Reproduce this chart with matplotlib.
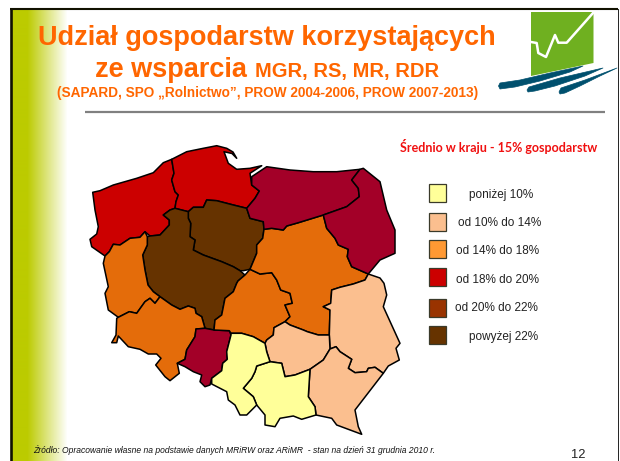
import numpy as np
import matplotlib
matplotlib.use("Agg")
import matplotlib.pyplot as plt
from matplotlib.patches import Polygon, Rectangle

# ---------- data ----------
legend_labels = ["poniżej 10%", "od 10% do 14%", "od 14% do 18%", "od 18% do 20%", "od 20% do 22%", "powyżej 22%"]
legend_colors = ["#FFFF99", "#FBBF8F", "#FF9933", "#CC0000", "#993300", "#663300"]
C_Y, C_P, C_O, C_R, C_C, C_B = "#FFFF99", "#FBBF8F", "#E46C0A", "#CC0000", "#A30028", "#663300"

zachodniopomorskie = [(92.7,192.3),(100,190.7),(113.3,185),(136.7,178.3),(153.3,172.7),(163.3,162.7),(171.7,159.3),(174,173.3),(171.7,180),(175,191.7),(178.3,195),(176,201.7),(175,208.3),(170,210),(163.3,215),(169.3,220),(169.3,225),(160,235),(150,236),(145,231.7),(140,237.3),(130,238.3),(120,245),(113.3,244.3),(109.3,251.7),(105,256),(91.7,246.7),(90,239.3),(96.7,234),(98.3,226.7),(95,210)]
pomorskie = [(171.7,159.3),(186.7,151.7),(203.3,148.3),(216.7,145.7),(226.7,148.3),(233,152),(236.7,158.3),(232,153.5),(224,151.7),(228.3,163.3),(236.7,169.3),(250,168.3),(261.7,165.7),(250,173.3),(251.7,185),(259.3,191),(255,198.3),(246.7,208.3),(233.3,205),(216.7,200.7),(206.7,200),(203.3,207.3),(193.3,207.3),(188.3,211.7),(175,208.3),(176,201.7),(178.3,195),(175,191.7),(171.7,180),(174,173.3)]
kujawsko_pomorskie = [(188.3,211.7),(193.3,207.3),(203.3,207.3),(206.7,200),(216.7,200.7),(233.3,205),(246.7,208.3),(250,218.3),(263.3,221.7),(264,229.3),(262.7,238.3),(256.7,245),(256.7,253.3),(250,269.3),(243.3,270.7),(240,270.7),(233.3,266.7),(221.7,261.7),(203.3,255),(193.3,250),(195,240),(190,236.7),(190.7,223.3),(188.3,218.3)]
wielkopolskie = [(175,208.3),(188.3,211.7),(188.3,218.3),(190.7,223.3),(190,236.7),(195,240),(193.3,250),(203.3,255),(221.7,261.7),(233.3,266.7),(240,270.7),(245,275),(238,281),(236.7,283.3),(233.3,291.7),(225,298.3),(221.7,315),(215,320),(214,330),(205,328.3),(201.7,316.7),(196,313.3),(195,308.3),(188.3,306),(180,309.3),(171.7,305),(160,296.7),(153.3,291.7),(148,285),(145,270),(142.7,255),(147.3,245),(147.3,236.7),(150,236),(160,235),(169.3,225),(169.3,220),(163.3,215),(170,210)]
lubuskie = [(105,256),(109.3,251.7),(113.3,244.3),(120,245),(130,238.3),(140,237.3),(145,231.7),(147.3,236.7),(147.3,245),(142.7,255),(145,270),(148,285),(153.3,291.7),(160,296.7),(155,303.3),(150,298.3),(145,301.7),(136.7,313.3),(129.3,311.7),(118.3,317.3),(108.3,310),(105,293.3),(108.3,286.7),(103.3,263.3)]
dolnoslaskie = [(116.7,318.3),(118.3,317.3),(129.3,311.7),(136.7,313.3),(145,301.7),(150,298.3),(155,303.3),(160,296.7),(171.7,305),(180,309.3),(188.3,306),(195,308.3),(196,313.3),(201.7,316.7),(205,328.3),(196,329),(195,336.7),(186.7,350),(185,359.3),(177.3,363.3),(179.3,373.3),(170,380.7),(165,376.7),(155.7,365),(161,358.3),(156.7,354),(148.3,354),(140,349.3),(128.3,346.7),(118.3,336),(116.7,342.7),(111.7,342.7),(116,335)]
opolskie = [(196,329),(205,328.3),(214,330),(229.3,330.7),(231,335),(226.7,351.7),(227.3,359.3),(222.7,363.3),(221.7,370.7),(211.7,378.3),(210,385),(205,386.7),(200,381.7),(201.7,375),(193.3,371.7),(185,366.7),(177.3,363.3),(185,359.3),(186.7,350),(195,336.7)]
lodzkie = [(236.7,283.3),(238,281),(245,275),(250,269.3),(260,274),(271.7,272.7),(276.7,280),(280.7,290),(290,293.3),(292.3,303.3),(285,305),(290,316.7),(285,321.7),(274,327.7),(273.3,335),(266.7,340),(265,343.3),(253.3,336.7),(241.7,333.3),(231,333.3),(229.3,330.7),(214,330),(215,320),(221.7,315),(225,298.3),(233.3,291.7)]
mazowieckie = [(250,269.3),(256.7,253.3),(256.7,245),(262.7,238.3),(264,229.3),(271.7,228.3),(283.3,230),(286.7,226),(298.3,222.7),(323.3,215),(326.7,228.3),(335,238.3),(338.3,245),(348.3,249.3),(347.3,256.7),(351.7,266.7),(368.3,274),(365,280),(353.3,284),(340,287.3),(331.7,290),(330.7,303.3),(323.3,306.7),(330,310),(329.3,335),(318.3,335),(307.3,331.7),(303.3,330),(290,325),(285,321.7),(290,316.7),(285,305),(292.3,303.3),(290,293.3),(280.7,290),(276.7,280),(271.7,272.7),(260,274)]
warminsko_mazurskie = [(251.7,176.7),(266.7,166.7),(290,170),(313.3,171.7),(336.7,171.7),(360,169.3),(351.7,180),(358.3,188.3),(359.3,196.7),(346.7,206.7),(323.3,215),(298.3,222.7),(286.7,226),(283.3,230),(271.7,228.3),(264,229.3),(263.3,221.7),(250,218.3),(246.7,208.3),(255,198.3),(259.3,191),(251.7,185)]
podlaskie = [(360,169.3),(363.3,168.3),(380,181.7),(386.7,210),(395,230),(395,253.3),(380,260),(368.3,274),(351.7,266.7),(347.3,256.7),(348.3,249.3),(338.3,245),(335,238.3),(326.7,228.3),(323.3,215),(346.7,206.7),(359.3,196.7),(358.3,188.3),(351.7,180)]
lubelskie = [(368.3,274),(380,278),(384,283.3),(386.7,295),(383.3,306.7),(400,343.3),(396,348.3),(399.3,360),(388.3,366),(383.3,373.3),(375,367.3),(368.3,368.3),(366.7,371.7),(355,372.7),(348.3,368.3),(351.7,359.3),(340,351.7),(336,346.7),(330,349),(329.3,335),(330,310),(323.3,306.7),(330.7,303.3),(331.7,290),(340,287.3),(353.3,284),(365,280)]
swietokrzyskie = [(273.3,335),(274,327.7),(285,321.7),(290,325),(303.3,330),(307.3,331.7),(318.3,335),(329.3,335),(330,349),(323.3,360),(310,369.3),(295,375),(285,376.7),(281.7,363.3),(270,361.7),(266.7,351.7),(265,343.3),(266.7,340)]
podkarpackie = [(336,346.7),(340,351.7),(351.7,359.3),(348.3,368.3),(355,372.7),(366.7,371.7),(368.3,368.3),(375,367.3),(383.3,373.3),(355,410),(358.3,426.7),(361.7,434.3),(336.7,425),(331.7,418.3),(316,415),(315,406.7),(308.3,396.7),(310,369.3),(323.3,360),(330,349)]
malopolskie = [(310,369.3),(308.3,396.7),(315,406.7),(316,415),(301.7,419.3),(293.3,416),(280,418.3),(275,426.7),(265,425),(265,415),(256.7,405),(253.3,396.7),(243.3,388.3),(251.7,378.3),(255,371.7),(256.7,366),(270,361.7),(281.7,363.3),(285,376.7),(295,375)]
slaskie = [(231,333.3),(241.7,333.3),(253.3,336.7),(265,343.3),(266.7,351.7),(270,361.7),(256.7,366),(255,371.7),(251.7,378.3),(243.3,388.3),(253.3,396.7),(256.7,405),(246.7,415),(240,415),(235,405),(228.3,400),(226.7,391.7),(211.7,384),(211.7,378.3),(221.7,370.7),(222.7,363.3),(227.3,359.3),(226.7,351.7),(231,335)]

regions = [(zachodniopomorskie,C_R),(pomorskie,C_R),(kujawsko_pomorskie,C_B),(wielkopolskie,C_B),
           (lubuskie,C_O),(dolnoslaskie,C_O),(opolskie,C_C),(lodzkie,C_O),(mazowieckie,C_O),
           (warminsko_mazurskie,C_C),(podlaskie,C_C),(lubelskie,C_P),(swietokrzyskie,C_P),
           (podkarpackie,C_P),(malopolskie,C_Y),(slaskie,C_Y)]

logo_square = [(531,12),(593.5,12),(593.5,63),(531,76)]
logo_line = [(531,42),(536.7,43),(538.3,53),(546,57),(555,35),(558.3,42.7),(566.7,42.7),(593,13)]
logo_strokes = [[(498.5,86),(500,83),(520,80),(550,73),(583,66),(570,72),(540,81),(515,87),(500,89)],
                [(527,90),(529,87),(560,78),(603,68),(585,76),(555,86),(535,91),(528,92)],
                [(559,92),(561,88),(585,80),(617,68),(600,76),(580,86),(565,93),(560,94)]]

# ---------- drawing ----------
ORANGE = "#FF6600"
fig = plt.figure(figsize=(6.2, 4.61), dpi=100)
ax = fig.add_axes([0, 0, 1, 1])
ax.set_xlim(0, 620); ax.set_ylim(461, 0); ax.axis("off")

# frame and gradient band
stops = np.interp(np.arange(12, 68), [12, 27, 67], [0, 0, 1])
base = np.array([0xBC, 0xCB, 0x00]) / 255
grad = (base[None, :] * (1 - stops[:, None]) + stops[:, None])[None, :, :]
ax.imshow(grad, extent=(12, 68, 461, 10), aspect="auto", zorder=1, interpolation="bilinear")
ax.set_xlim(0, 620); ax.set_ylim(461, 0)
ax.plot([11.3, 11.3], [461, 9], color="#111100", lw=1.9, zorder=2, solid_capstyle="butt")
ax.plot([10, 618], [9.2, 9.2], color="#111100", lw=1.5, zorder=2, solid_capstyle="butt")
ax.plot([617.5, 617.5], [9, 461], color="#222222", lw=0.7, zorder=2)

# title
f = "Liberation Sans"
ax.text(267, 45, "Udział gospodarstw korzystających", color=ORANGE, family=f, weight="bold", fontsize=19.5, ha="center", va="baseline", zorder=3)
ax.text(95, 77, "ze wsparcia", color=ORANGE, family=f, weight="bold", fontsize=19.5, ha="left", va="baseline", zorder=3)
ax.text(255, 77, "MGR, RS, MR, RDR", color=ORANGE, family=f, weight="bold", fontsize=14.5, ha="left", va="baseline", zorder=3)
ax.text(267.5, 97, "(SAPARD, SPO „Rolnictwo”, PROW 2004-2006, PROW 2007-2013)", color=ORANGE, family=f, weight="bold", fontsize=9.8, ha="center", va="baseline", zorder=3)
ax.plot([85, 605], [112.5, 112.5], color="#808080", lw=1.6, zorder=2, solid_capstyle="butt")

# logo
ax.add_patch(Polygon(logo_square, closed=True, fc="#6FB020", ec="none", zorder=3))
xs, ys = zip(*logo_line)
ax.plot(xs, ys, color="white", lw=1.8, zorder=4)
for s in logo_strokes:
    ax.add_patch(Polygon(s, closed=True, fc="#00506E", ec="#00506E", lw=0.5, zorder=5, joinstyle="round"))

# map
for pts, col in regions:
    ax.add_patch(Polygon(pts, closed=True, fc=col, ec="black", lw=1.1, zorder=6, joinstyle="round"))

# legend
ax.text(498.5, 151.5, "Średnio w kraju - 15% gospodarstw", color="#F01010", family="Lato", weight="bold", fontsize=9.0, ha="center", va="baseline", zorder=3)
box_tops = [184, 213, 240, 268, 299, 326]
label_x = [501, 500, 498, 498, 496, 504]
label_y = [194.5, 223, 251, 280, 308, 337]
for top, col, lab, lx, ly in zip(box_tops, legend_colors, legend_labels, label_x, label_y):
    ax.add_patch(Rectangle((428.5, top), 17.5, 18, fc=col, ec="#3a3a2a", lw=0.9, zorder=3))
    ax.text(lx, ly, lab, color="#222222", family=f, fontsize=8.5, ha="center", va="center", zorder=3)

# footer
ax.text(33, 452.5, "Źródło: Opracowanie własne na podstawie danych MRiRW oraz ARiMR  - stan na dzień 31 grudnia 2010 r.",
        color="#111111", family=f, style="italic", fontsize=6.15, ha="left", va="baseline", zorder=3)
ax.text(578, 458, "12", color="#222222", family=f, fontsize=9.3, ha="center", va="baseline", zorder=3)

fig.savefig("out.png", dpi=100)
